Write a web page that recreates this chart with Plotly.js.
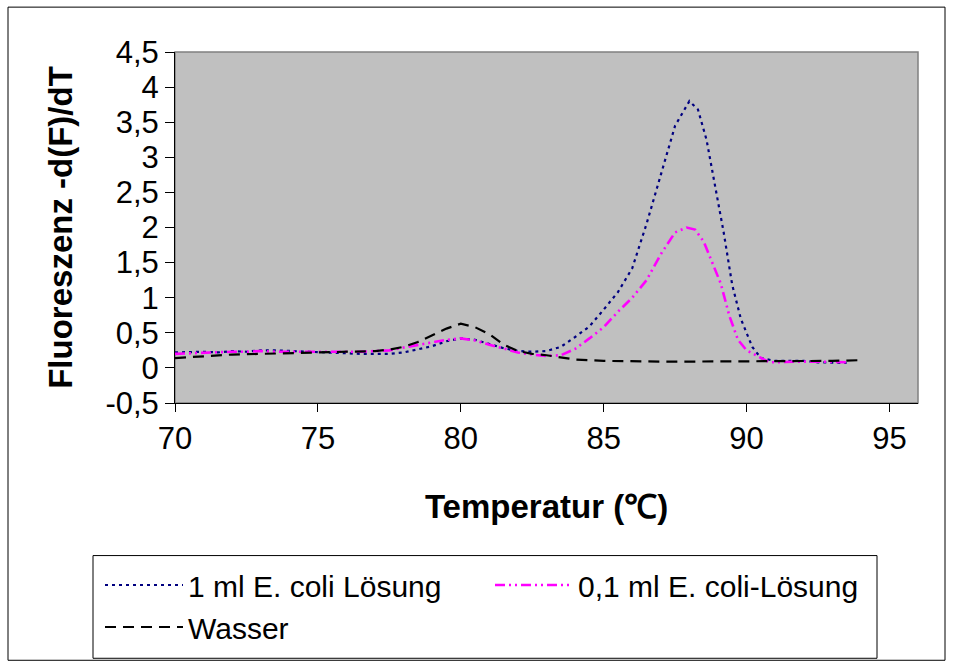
<!DOCTYPE html>
<html>
<head>
<meta charset="utf-8">
<script src="https://cdn.plot.ly/plotly-3.0.1.min.js"></script>
<style>
html,body{margin:0;padding:0;background:#fff;}
#chart{width:953px;height:664px;}
</style>
</head>
<body>
<div id="chart"></div>
<script>
// ---- data ----
const seriesNames = ["1 ml E. coli Lösung", "0,1 ml E. coli-Lösung", "Wasser"];

const tempEcoli1 = [70,70.5,71,71.5,72,72.5,73,73.5,74,74.5,75,75.5,76,76.5,77,77.5,78,78.5,79,79.5,80,80.5,81,81.5,82,82.5,83,83.5,84,84.5,85,85.5,86,86.5,87,87.5,88,88.3,88.6,89,89.2,89.5,89.8,90.2,90.5,91,91.5,92,92.5,93,93.5];
const fluorEcoli1 = [0.22,0.23,0.23,0.22,0.24,0.23,0.25,0.25,0.24,0.24,0.22,0.22,0.2,0.2,0.2,0.2,0.22,0.26,0.31,0.38,0.42,0.4,0.34,0.28,0.24,0.23,0.24,0.3,0.44,0.59,0.83,1.08,1.42,2.05,2.75,3.45,3.8,3.68,3.25,2.4,1.93,1.18,0.7,0.3,0.14,0.1,0.1,0.1,0.08,0.08,0.07];

const tempEcoli01 = [70,70.5,71,71.5,72,72.5,73,73.5,74,74.5,75,75.5,76,76.5,77,77.5,78,78.5,79,79.5,80,80.5,81,81.5,82,82.5,83,83.5,84,84.5,85,85.5,86,86.5,87,87.5,87.9,88.2,88.5,88.8,89.1,89.4,89.7,90,90.5,90.8,91,91.5,92,92.5,93,93.5];
const fluorEcoli01 = [0.2,0.21,0.22,0.22,0.23,0.23,0.24,0.23,0.23,0.23,0.23,0.22,0.22,0.23,0.24,0.25,0.29,0.33,0.37,0.4,0.42,0.39,0.33,0.27,0.22,0.19,0.17,0.18,0.27,0.42,0.58,0.8,1.0,1.25,1.62,1.93,2.0,1.97,1.8,1.5,1.2,0.74,0.4,0.25,0.15,0.08,0.08,0.09,0.09,0.09,0.08,0.08];

const tempWasser = [70,71,72,73,74,75,76,77,77.5,78,78.5,79,79.5,80,80.5,81,81.5,82,82.5,83,83.5,84,85,86,87,88,89,90,91,92,93,94];
const fluorWasser = [0.14,0.17,0.19,0.2,0.21,0.22,0.23,0.24,0.26,0.3,0.37,0.46,0.56,0.63,0.58,0.48,0.33,0.24,0.2,0.18,0.15,0.12,0.1,0.09,0.09,0.09,0.09,0.09,0.1,0.1,0.1,0.11];

const xTickVals = [70,75,80,85,90,95];
const yTickVals = [-0.5,0,0.5,1,1.5,2,2.5,3,3.5,4,4.5];
const yTickText = ["-0,5","0","0,5","1","1,5","2","2,5","3","3,5","4","4,5"];

// ---- layout geometry (pixels) ----
const W = 953, H = 664;
const L = 175, R = 918, T = 52, B = 404;
const pw = R - L, ph = B - T;
const px = x => (x - L) / pw;
const py = y => (B - y) / ph;

const FONT = "Liberation Sans, Arial, sans-serif";

const traces = [
  {x: tempEcoli1, y: fluorEcoli1, name: seriesNames[0], type: "scatter", mode: "lines",
   line: {color: "#000080", width: 2.2, dash: "3px,4px"}},
  {x: tempEcoli01, y: fluorEcoli01, name: seriesNames[1], type: "scatter", mode: "lines",
   line: {color: "#FF00FF", width: 2.6, dash: "10px,4px,2px,4px,2px,4px"}},
  {x: tempWasser, y: fluorWasser, name: seriesNames[2], type: "scatter", mode: "lines",
   line: {color: "#000000", width: 2.2, dash: "11px,7px"}}
];

const layout = {
  width: W, height: H,
  margin: {l: L, r: W - R, t: T, b: H - B, pad: 0},
  paper_bgcolor: "#ffffff",
  plot_bgcolor: "#C0C0C0",
  separators: ",.",
  font: {family: FONT, color: "#000", size: 30},
  showlegend: true,
  xaxis: {
    range: [70, 96], tickvals: xTickVals, ticks: "outside", ticklen: 8, tickwidth: 1, tickcolor: "#000",
    showline: true, linecolor: "#000", linewidth: 1, showgrid: false, zeroline: false,
    tickfont: {family: FONT, size: 31, color: "#000"},
    title: {text: "<b>Temperatur (℃)</b>", font: {family: FONT, size: 33, color: "#000"}, standoff: 39}
  },
  yaxis: {
    range: [-0.5, 4.5], tickvals: yTickVals, ticktext: yTickText, ticks: "outside", ticklen: 9, tickwidth: 1, tickcolor: "#000",
    showline: true, linecolor: "#000", linewidth: 1, showgrid: false, zeroline: false,
    tickfont: {family: FONT, size: 31, color: "#000"},
    title: {text: "<b>Fluoreszenz -d(F)/dT</b>", font: {family: FONT, size: 33, color: "#000"}, standoff: 22}
  },
  legend: {
    orientation: "h",
    x: px(100), y: py(559), xanchor: "left", yanchor: "top",
    bgcolor: "rgba(0,0,0,0)", borderwidth: 0,
    font: {family: FONT, size: 30, color: "#000"},
    entrywidth: 297, entrywidthmode: "pixels",
    itemwidth: 78,
    traceorder: "normal"
  },
  shapes: [
    // outer chart frame
    {type: "rect", xref: "paper", yref: "paper", x0: px(8), x1: px(945), y0: py(662), y1: py(7),
     line: {color: "#000", width: 1}, fillcolor: "rgba(0,0,0,0)", layer: "above"},
    // plot area border (grey top/right)
    {type: "rect", xref: "paper", yref: "paper", x0: 0, x1: 1, y0: 0, y1: 1,
     line: {color: "#808080", width: 1.5}, fillcolor: "rgba(0,0,0,0)", layer: "below"},
    // legend box
    {type: "rect", xref: "paper", yref: "paper", x0: px(93), x1: px(877), y0: py(660), y1: py(557),
     line: {color: "#000", width: 1}, fillcolor: "rgba(0,0,0,0)", layer: "above"}
  ]
};

Plotly.newPlot("chart", traces, layout, {displayModeBar: false, staticPlot: true});
</script>
</body>
</html>
